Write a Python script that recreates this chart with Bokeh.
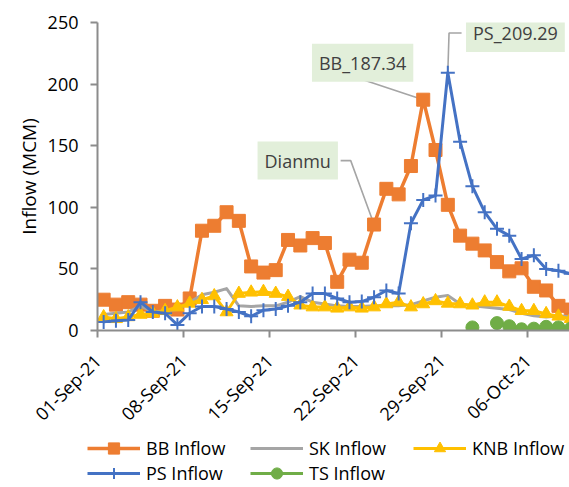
import math
import numpy as np
import pandas as pd
from bokeh.plotting import figure
from bokeh.layouts import column
from bokeh.models import (Range1d, FixedTicker, DatetimeTickFormatter, Legend,
                          LegendItem, Label, ColumnDataSource)
from bokeh.embed import file_html
from bokeh.resources import INLINE

# ---------------- data ----------------
start_date = "2021-09-01"
dates = pd.date_range(start_date, "2021-10-09", freq="D")
tick_dates = ["2021-09-01", "2021-09-08", "2021-09-15", "2021-09-22", "2021-09-29", "2021-10-06"]
y_ticks = [0, 50, 100, 150, 200, 250]

bb = [25, 21, 23, 21, 16, 20, 17, 26, 81, 85, 96, 89, 52, 47, 49, 73.5, 69, 75, 71,
      39.5, 57.5, 55, 86, 115, 110.5, 133.5, 187.34, 146.5, 102, 77, 70.5, 65, 55.5,
      48, 50.5, 35.5, 32.5, 20, 17]
sk = [13, 14, 15, 20, 15, 16, 17, 23, 29, 31, 34, 20, 19.5, 20, 20, 23, 27.5, 23, 21.5,
      20, 19.5, 19.5, 20, 20, 20, 21, 24, 27, 28.5, 21.5, 20, 19, 18, 17, 14, 12, 11, 12, 11]
knb = [11, 9.5, 11, 13, 14, 16, 19, 22, 25, 28, 15, 30, 31, 31.5, 30, 27.5, 20.5, 19, 19,
       18, 19, 18, 19, 21.5, 23, 19, 21.5, 24, 22, 21.5, 20.5, 23, 23, 19.5, 16, 16, 13.5, 11.5, 9.5]
ps = [7, 8, 8.5, 23, 15, 14, 4.5, 14, 19.5, 19.5, 17.5, 15, 11.5, 16.5, 17.5, 20, 23, 30, 30,
      26, 23, 23.5, 27, 32.5, 30, 87, 106, 109.5, 209.29, 153.3, 117, 96, 82.5, 77, 58, 61, 50, 48.5, 46]
ts = [None, None, None, None, None, None, None, None, None, None,
      None, None, None, None, None, None, None, None, None, None,
      None, None, None, None, None, None, None, None, None, None,
      2.5, None, 6, 3.5, 1, 1.5, 3, 2.5, 1.5]

# annotation callouts: (text, box centre day, box centre value), leader path (days, values)
ann_ps = ("PS_209.29", 34.0, 241.5)
lead_ps_x = [28.5, 28.6, 29.62]
lead_ps_y = [209.29, 241.5, 241.5]
ann_bb = ("BB_187.34", 21.57, 217.4)
lead_bb_x = [21.6, 26.5]
lead_bb_y = [203.6, 187.34]
ann_dm = ("Dianmu", 16.29, 137.9)
lead_dm_x = [19.78, 20.6, 22.5]
lead_dm_y = [137.9, 137.9, 86]

FONT = "Open Sans"
AXIS_COL = "#8c8c8c"
C_BB, C_SK, C_KNB, C_PS, C_TS = "#ED7D31", "#A5A5A5", "#FFC000", "#4472C4", "#70AD47"

# ---------------- main figure ----------------
t0 = pd.Timestamp(start_date)
xs = dates + pd.Timedelta(hours=12)

p = figure(width=569, height=436, output_backend="svg", toolbar_location=None,
           x_axis_type="datetime",
           x_range=Range1d(t0, t0 + pd.Timedelta(days=38.4)),
           y_range=Range1d(0, 250),
           min_border_left=97, min_border_right=0, min_border_top=22, min_border_bottom=106)
p.frame_align = False
p.outline_line_color = None
p.xgrid.visible = False
p.ygrid.visible = False
p.background_fill_color = "white"
p.border_fill_color = "white"

def day(d):
    return t0 + pd.Timedelta(days=d)

# leader lines of the callouts
for lx, ly in [(lead_ps_x, lead_ps_y), (lead_bb_x, lead_bb_y), (lead_dm_x, lead_dm_y)]:
    p.line([day(v) for v in lx], ly, line_color="#A5A5A5", line_width=1.6)

src = ColumnDataSource(dict(x=xs, bb=bb, sk=sk, knb=knb, ps=ps,
                            ts=np.array(ts, dtype=float)))

STY = {
    "BB": dict(color=C_BB, lw=3.5, marker="square", size=13),
    "SK": dict(color=C_SK, lw=3, marker=None, size=0),
    "KNB": dict(color=C_KNB, lw=3, marker="triangle", size=13),
    "PS": dict(color=C_PS, lw=3, marker="cross", size=14),
    "TS": dict(color=C_TS, lw=3, marker="circle", size=13),
}

def draw(fig, key, col, source):
    s = STY[key]
    rs = [fig.line("x", col, source=source, line_color=s["color"], line_width=s["lw"],
                   line_join="round")]
    if s["marker"] == "cross":
        rs.append(fig.scatter("x", col, source=source, marker="cross", size=s["size"],
                              line_color=s["color"], line_width=2))
    elif s["marker"]:
        rs.append(fig.scatter("x", col, source=source, marker=s["marker"], size=s["size"],
                              fill_color=s["color"], line_color=s["color"]))
    return rs

for key, col in [("BB", "bb"), ("SK", "sk"), ("KNB", "knb"), ("PS", "ps"), ("TS", "ts")]:
    draw(p, key, col, src)

# axes
xa = p.xaxis[0]
xa.ticker = FixedTicker(ticks=[pd.Timestamp(d).timestamp() * 1000 for d in tick_dates])
fmt = "%d-%b-%y"
xa.formatter = DatetimeTickFormatter(days=fmt, months=fmt, years=fmt, hours=fmt,
                                     hourmin=fmt, minutes=fmt, minsec=fmt, seconds=fmt,
                                     milliseconds=fmt, microseconds=fmt)
xa.major_label_orientation = math.pi / 4
xa.major_label_standoff = 20
ya = p.yaxis[0]
ya.ticker = FixedTicker(ticks=y_ticks)
ya.major_label_standoff = 12
ya.axis_label = "Inflow (MCM)"
ya.axis_label_text_font = FONT
ya.axis_label_text_font_size = "19px"
ya.axis_label_text_font_style = "normal"
ya.axis_label_text_color = "black"
ya.axis_label_standoff = 3
for ax in (xa, ya):
    ax.axis_line_color = AXIS_COL
    ax.axis_line_width = 2
    ax.major_tick_line_color = AXIS_COL
    ax.major_tick_line_width = 2
    ax.major_tick_out = 7
    ax.major_tick_in = 0
    ax.minor_tick_line_color = None
    ax.major_label_text_font = FONT
    ax.major_label_text_font_size = "18px"
    ax.major_label_text_color = "black"

# callout labels
for txt, dx, vy in (ann_ps, ann_bb, ann_dm):
    p.add_layout(Label(x=day(dx), y=vy, text=txt, text_font=FONT, text_font_size="18px",
                       text_color="#404040", text_align="center", text_baseline="middle",
                       background_fill_color="#E2EFDA", padding=7))

# ---------------- legend strip ----------------
lg_fig = figure(width=569, height=51, output_backend="svg", toolbar_location=None,
                x_range=Range1d(0, 1), y_range=Range1d(0, 1),
                x_axis_location=None, y_axis_location=None,
                min_border_left=0, min_border_right=0, min_border_top=0, min_border_bottom=0)
lg_fig.frame_align = False
lg_fig.outline_line_color = None
lg_fig.xgrid.visible = False
lg_fig.ygrid.visible = False
# swatch renderers: their only points lie outside the strip's ranges, so only the legend shows
offscreen = ColumnDataSource(dict(x=[5, 6], y=[5, 6]))
leg_r = {k: draw(lg_fig, k, "y", offscreen) for k in STY}

def mk_legend(keys, names, loc):
    lg = Legend(items=[LegendItem(label=n, renderers=leg_r[k]) for k, n in zip(keys, names)],
                location=loc, orientation="horizontal",
                padding=0, margin=0, spacing=16,
                glyph_width=53, glyph_height=28, label_height=28, label_width=88,
                label_standoff=6,
                label_text_font=FONT, label_text_font_size="18px", label_text_color="black",
                border_line_color=None, background_fill_alpha=0)
    lg_fig.add_layout(lg, "center")

mk_legend(["BB", "SK", "KNB"], ["BB Inflow", "SK Inflow", "KNB Inflow"], (87, 25))
mk_legend(["PS", "TS"], ["PS Inflow", "TS Inflow"], (87, 0))

layout = column(p, lg_fig, spacing=0)
open("out.html", "w").write(file_html(layout, INLINE))
